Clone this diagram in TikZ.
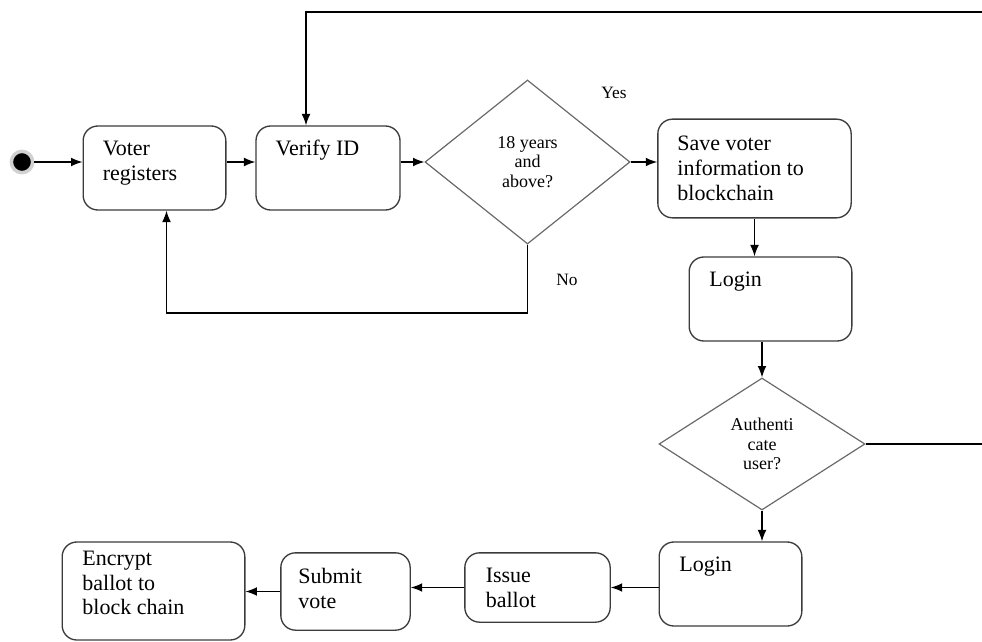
\documentclass[tikz,border=0pt]{standalone}
\usepackage{fontspec}
\setmainfont{Liberation Serif}
\usetikzlibrary{arrows.meta,positioning,calc,shapes.geometric}
\definecolor{flowInk}{HTML}{3C3C3C}
\definecolor{flowGrey}{HTML}{6A6A6A}

\begin{document}
\begin{tikzpicture}[x=0.75pt,y=-0.75pt,>={Latex[length=3mm,width=2.3mm]},
    stepbox/.style={draw=flowInk,rounded corners=11pt,line width=1pt,fill=white},
    boxtext/.style={anchor=north west,inner sep=0pt,align=left,font=\fontsize{16.5}{18.6}\selectfont},
    decision/.style={diamond,draw=flowGrey,line width=0.9pt,inner sep=0pt,align=center,font=\fontsize{13.5}{14.8}\selectfont},
    flow/.style={->,black,line width=0.9pt},
    tag/.style={font=\fontsize{13}{15}\selectfont,inner sep=0pt}]

  \useasboundingbox (0,0) rectangle (982,642);

  % start point
  \node[circle,fill=black,draw=black!18,line width=2.6pt,minimum size=16pt,inner sep=0pt] (start) at (22,162) {};

  % registration row
  \node[stepbox,minimum width=107pt,minimum height=63pt] (voter) at (154.5,168) {};
  \node[boxtext] (votertxt) at ([xshift=15pt,yshift=-11.5pt]voter.north west) {Voter\\registers};
  \node[stepbox,minimum width=108pt,minimum height=63pt] (verify) at (328,168) {};
  \node[boxtext] (verifytxt) at ([xshift=15pt,yshift=-10.5pt]verify.north west) {Verify ID};
  \node[decision,minimum width=153.75pt,minimum height=123pt] (age) at (527.5,162) {18 years\\and\\above?};
  \node[stepbox,minimum width=145pt,minimum height=74pt] (save) at (754.5,168.5) {};
  \node[boxtext] (savetxt) at ([xshift=15pt,yshift=-13pt]save.north west) {Save voter\\information to\\blockchain};
  \node[tag] (yes) at (614,93) {Yes};
  \node[tag] (no) at (567,280) {No};

  % login column
  \node[stepbox,minimum width=122pt,minimum height=63pt] (login1) at (770.5,299) {};
  \node[boxtext] (login1txt) at ([xshift=15.5pt,yshift=-11.5pt]login1.north west) {Login};
  \node[decision,minimum width=154.5pt,minimum height=99pt] (auth) at (762,444) {Authenti\\cate\\user?};
  \node[stepbox,minimum width=107pt,minimum height=63pt] (login2) at (730.5,584) {};
  \node[boxtext] (login2txt) at ([xshift=15.5pt,yshift=-11.5pt]login2.north west) {Login};

  % ballot row
  \node[stepbox,minimum width=109pt,minimum height=52pt] (issue) at (537.5,587.5) {};
  \node[boxtext] (issuetxt) at ([xshift=16pt,yshift=-12pt]issue.north west) {Issue\\ballot};
  \node[stepbox,minimum width=97pt,minimum height=58pt] (submit) at (345.5,591.5) {};
  \node[boxtext] (submittxt) at ([xshift=13.5pt,yshift=-12pt]submit.north west) {Submit\\vote};
  \node[stepbox,minimum width=137pt,minimum height=73.5pt] (encrypt) at (153.5,591) {};
  \node[boxtext] (encrypttxt) at ([xshift=15.5pt,yshift=-7pt]encrypt.north west) {Encrypt\\ballot to\\block chain};

  % connectors
  \draw[flow] (start.east) -- (start.east -| voter.west);
  \draw[flow] ([yshift=4.5pt]voter.east) -- ([yshift=4.5pt]verify.west);
  \draw[flow] ([yshift=4.5pt]verify.east) -- (age.west);
  \draw[flow] (age.east) -- (age.east -| save.west);
  \draw[flow] (save.south) -- (save.south |- login1.north);
  \draw[flow] (auth.north |- login1.south) -- (auth.north);
  \draw[flow] (auth.south) -- (auth.south |- login2.north);
  \draw[flow] (login2.west |- issue.east) -- (issue.east);
  \draw[flow] (issue.west) -- (issue.west -| submit.east);
  \draw[flow] (submit.west) -- (submit.west -| encrypt.east);

  \coordinate (nobend) at (527.5,313);
  \draw[flow] (age.south) -- (nobend) -| ([xshift=9pt]voter.south);
  \coordinate (loopright) at (995,12);
  \draw[flow] (auth.east) -- (auth.east -| loopright) -- (loopright) -| ([xshift=-16.5pt]verify.north);
\end{tikzpicture}
\end{document}
